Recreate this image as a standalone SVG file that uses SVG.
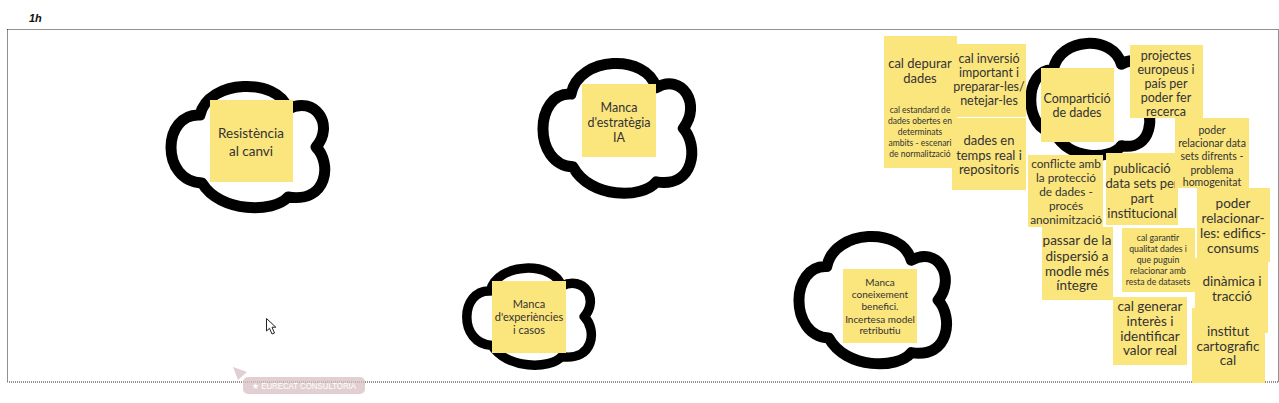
<svg xmlns="http://www.w3.org/2000/svg" xmlns:xlink="http://www.w3.org/1999/xlink" width="1279" height="403" viewBox="0 0 1279 403">
<style>
.cloud{fill:#fff;stroke:#000;stroke-width:11;stroke-linejoin:round}
.s{fill:#fbe57d}
.t{font-family:Lato,"Open Sans",sans-serif;fill:#333;text-anchor:middle}
.frame{fill:none;stroke:#222;stroke-width:1;stroke-dasharray:1 1}
</style>
<defs>
<path id="cloud" vector-effect="non-scaling-stroke" d="M32,98 C-10,96 -8,28 30,30 C38,-6 108,-8 118,24 C145,10 165,40 146,62 C162,78 158,118 118,112 C104,128 50,128 32,98 Z"/>
</defs>
<rect width="1279" height="403" fill="#fff"/>
<text x="29" y="22" font-family="Liberation Sans, Arial, sans-serif" font-size="11" font-weight="bold" font-style="italic" fill="#111">1h</text>
<rect class="frame" x="7.5" y="29.5" width="1271" height="352.5"/>

<g id="n-resistencia">
<use href="#cloud" class="cloud" transform="translate(170,85) scale(1,1)"/>
<rect class="s" x="210" y="100" width="83" height="82"/>
<text class="t" font-size="13.5"><tspan x="251" y="138">Resistència</tspan><tspan x="251" y="156">al canvi</tspan></text>
</g>

<g id="n-estrategia">
<use href="#cloud" class="cloud" transform="translate(542,62) scale(0.968,1.07)"/>
<rect class="s" x="582" y="84" width="74" height="73"/>
<text class="t" font-size="12.5"><tspan x="619" y="111.5">Manca</tspan><tspan x="619" y="126.5">d'estratègia</tspan><tspan x="619" y="141.5">IA</tspan></text>
</g>

<g id="n-experiencies">
<use href="#cloud" class="cloud" style="stroke-width:9.5" transform="translate(466,267) scale(0.81,0.8)"/>
<rect class="s" x="492" y="281" width="74" height="72"/>
<text class="t" font-size="11"><tspan x="529" y="308">Manca</tspan><tspan x="529" y="321">d'experiències</tspan><tspan x="529" y="334">i casos</tspan></text>
</g>

<g id="n-coneixement">
<use href="#cloud" class="cloud" transform="translate(798,235) scale(0.96,1.05)"/>
<rect class="s" x="843" y="269" width="74" height="74"/>
<text class="t" font-size="10"><tspan x="880" y="286">Manca</tspan><tspan x="880" y="298">coneixement</tspan><tspan x="880" y="310">benefici.</tspan><tspan x="880" y="322.5">Incertesa model</tspan><tspan x="880" y="334">retributiu</tspan></text>
</g>

<g id="n-comparticio">
<use href="#cloud" class="cloud" transform="translate(1030,42) scale(0.774,0.926)"/>
<rect class="s" x="1041" y="68" width="73" height="74"/>
<text class="t" font-size="12.5"><tspan x="1077" y="103">Compartició</tspan><tspan x="1077" y="117">de dades</tspan></text>
</g>

<g id="n-depurar">
<rect class="s" x="884" y="36" width="73" height="73"/>
<text class="t" font-size="13"><tspan x="920" y="68">cal depurar</tspan><tspan x="920" y="83">dades</tspan></text>
</g>

<g id="n-estandard">
<rect class="s" x="884" y="96" width="73" height="72"/>
<text class="t" font-size="8.5"><tspan x="920" y="113">cal estandard de</tspan><tspan x="920" y="124">dades obertes en</tspan><tspan x="920" y="135">determinats</tspan><tspan x="920" y="146">ambits - escenari</tspan><tspan x="920" y="157">de normalització</tspan></text>
</g>

<g id="n-inversio">
<rect class="s" x="952" y="44" width="74" height="73"/>
<text class="t" font-size="12.5"><tspan x="989" y="63">cal inversió</tspan><tspan x="989" y="77">important i</tspan><tspan x="989" y="91">preparar-les/</tspan><tspan x="989" y="105">netejar-les</tspan></text>
</g>

<g id="n-tempsreal">
<rect class="s" x="952" y="118" width="74" height="72"/>
<text class="t" font-size="13"><tspan x="989" y="145">dades en</tspan><tspan x="989" y="160">temps real i</tspan><tspan x="989" y="174">repositoris</tspan></text>
</g>

<g id="n-projectes">
<rect class="s" x="1130" y="45" width="73" height="73"/>
<text class="t" font-size="12.5"><tspan x="1166" y="59.5">projectes</tspan><tspan x="1166" y="73.5">europeus i</tspan><tspan x="1166" y="87.5">país per</tspan><tspan x="1166" y="101.5">poder fer</tspan><tspan x="1166" y="115.5">recerca</tspan></text>
</g>

<g id="n-conflicte">
<rect class="s" x="1028" y="155" width="75" height="72"/>
<text class="t" font-size="11.8"><tspan x="1066" y="167.5">conflicte amb</tspan><tspan x="1066" y="181.5">la protecció</tspan><tspan x="1066" y="195.5">de dades -</tspan><tspan x="1066" y="209.5">procés</tspan><tspan x="1066" y="223.5">anonimització</tspan></text>
</g>

<g id="n-publicacio">
<rect class="s" x="1106" y="153" width="72" height="72"/>
<text class="t" font-size="13"><tspan x="1142" y="172.5">publicació</tspan><tspan x="1142" y="187.5">data sets per</tspan><tspan x="1142" y="202.5">part</tspan><tspan x="1142" y="217.5">institucional</tspan></text>
</g>

<g id="n-relacionar-data">
<rect class="s" x="1175" y="118" width="74" height="70"/>
<text class="t" font-size="10.5"><tspan x="1212" y="134">poder</tspan><tspan x="1212" y="147">relacionar data</tspan><tspan x="1212" y="160">sets difrents -</tspan><tspan x="1212" y="173.5">problema</tspan><tspan x="1212" y="186">homogenitat</tspan></text>
</g>

<g id="n-passar">
<rect class="s" x="1042" y="227" width="71" height="73"/>
<text class="t" font-size="13.5"><tspan x="1077" y="245">passar de la</tspan><tspan x="1077" y="260.5">dispersió a</tspan><tspan x="1077" y="275.5">modle més</tspan><tspan x="1077" y="290">íntegre</tspan></text>
</g>

<g id="n-garantir">
<rect class="s" x="1122" y="228" width="73" height="64"/>
<text class="t" font-size="8.7"><tspan x="1158" y="241">cal garantir</tspan><tspan x="1158" y="252">qualitat dades i</tspan><tspan x="1158" y="263">que puguin</tspan><tspan x="1158" y="274">relacionar amb</tspan><tspan x="1158" y="285">resta de datasets</tspan></text>
</g>

<g id="n-edifics">
<rect class="s" x="1197" y="188" width="73" height="74"/>
<text class="t" font-size="13.5"><tspan x="1233" y="208">poder</tspan><tspan x="1233" y="223">relacionar-</tspan><tspan x="1233" y="238">les: edifics-</tspan><tspan x="1233" y="253">consums</tspan></text>
</g>

<g id="n-dinamica">
<rect class="s" x="1195" y="258" width="73" height="75"/>
<text class="t" font-size="13.5"><tspan x="1232" y="286">dinàmica i</tspan><tspan x="1232" y="301">tracció</tspan></text>
</g>

<g id="n-generar">
<rect class="s" x="1113" y="297" width="74" height="68"/>
<text class="t" font-size="13.5"><tspan x="1150" y="311">cal generar</tspan><tspan x="1150" y="326">interès i</tspan><tspan x="1150" y="340.5">identificar</tspan><tspan x="1150" y="355">valor real</tspan></text>
</g>

<g id="n-institut">
<rect class="s" x="1192" y="308" width="73" height="75"/>
<text class="t" font-size="13.5"><tspan x="1228" y="335.5">institut</tspan><tspan x="1228" y="350.5">cartografic</tspan><tspan x="1228" y="365">cal</tspan></text>
</g>

<g id="connectors"></g>

<g id="cursor">
<polygon points="266.5,318.5 266.5,331 269.5,328.3 272,334 274.5,333 272,327.2 275.8,327.2" fill="#fff" stroke="#222" stroke-width="1" stroke-linejoin="round"/>
</g>

<g id="badge" opacity="0.75">
<polygon points="233,367 247,372 238,380" fill="#d9bfc4"/>
<rect x="243" y="377" width="122" height="17" rx="5" fill="#d9bfc4"/>
<text x="252" y="389" font-family="Liberation Sans, Arial, sans-serif" font-size="9" fill="#fff" textLength="104" lengthAdjust="spacingAndGlyphs">★ EURECAT CONSULTORIA</text>
</g>
</svg>
